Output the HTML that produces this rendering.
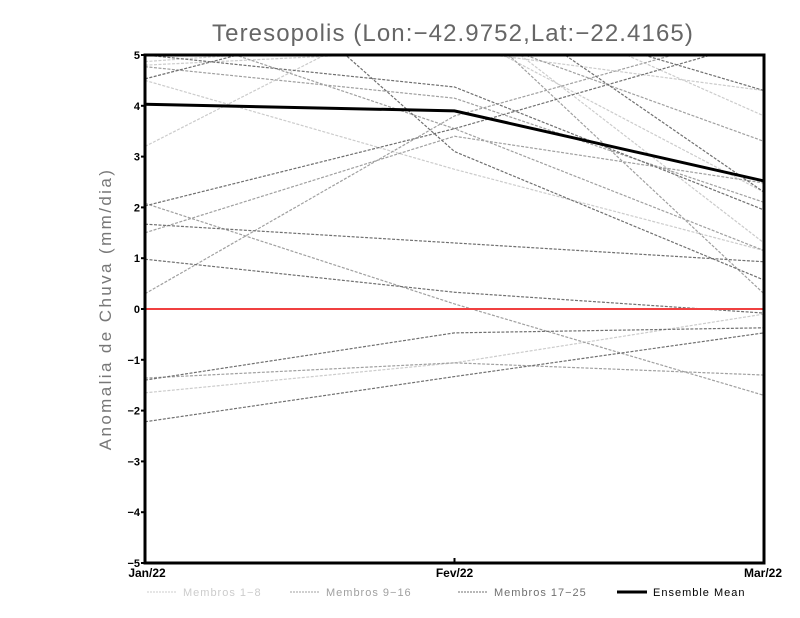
<!DOCTYPE html>
<html><head><meta charset="utf-8"><style>
body{margin:0;background:#fff;width:800px;height:618px;overflow:hidden}
svg{display:block}
</style></head><body>
<svg id="chart" width="800" height="618" font-family="Liberation Sans, sans-serif">
<defs><clipPath id="plotclip"><rect x="145" y="55" width="619" height="508"/></clipPath></defs>
<text x="453" y="41" text-anchor="middle" font-size="24" fill="#666" letter-spacing="1.1">Teresopolis (Lon:−42.9752,Lat:−22.4165)</text>
<text transform="translate(111,309) rotate(-90)" text-anchor="middle" font-size="17" fill="#777" letter-spacing="2.4">Anomalia de Chuva (mm/dia)</text>
<g id="series" clip-path="url(#plotclip)"></g>
<g id="axes"></g>
<g id="legend"></g>
</svg>
<script>
const categories = ["Jan/22","Fev/22","Mar/22"];
const yTicks = [5,4,3,2,1,0,-1,-2,-3,-4,-5];
const membersLight = [[3.2,6.3,6],[4.5,2.75,1.15],[-1.65,-1.06,-0.1],[4.8,5.1,4.3],[6,6.5,3.8],[8,6,1.3],[4.87,5.3,5.5],[7,5.5,2.3]];
const membersMedium = [[0.3,3.8,5.5],[2.08,0.1,-1.7],[1.5,3.4,2.48],[-1.36,-1.06,-1.3],[4.77,4.15,2.1],[9,6,0.3],[6,5.5,3.3],[5.6,3.55,1.15]];
const membersDark = [[4.53,6.1,4.3],[2.03,3.55,5.3],[1.67,1.3,0.93],[0.98,0.33,-0.08],[-1.4,-0.47,-0.37],[-2.22,-1.33,-0.47],[8.5,3.1,0.57],[5,4.37,1.95],[6,6.5,2.3]];
const ensembleMean = [4.03,3.9,2.52];
const legendLabels = ["Membros 1-8","Membros 9-16","Membros 17-25","Ensemble Mean"];

const NS="http://www.w3.org/2000/svg";
const X0=145,X1=764,Y0=55,Y1=563;
const xScale=i=>X0+(X1-X0)*i/(categories.length-1);
const yScale=v=>Y1-(v+5)/10*(Y1-Y0);
function mk(tag,attrs,parent){const e=document.createElementNS(NS,tag);for(const k in attrs)e.setAttribute(k,attrs[k]);parent.appendChild(e);return e;}
const series=document.getElementById('series'),axes=document.getElementById('axes'),legend=document.getElementById('legend');
function pts(arr){return arr.map((v,i)=>xScale(i)+','+yScale(v)).join(' ');}
function drawGroup(arr,color,name){arr.forEach((m,k)=>{const p=mk('polyline',{points:pts(m),fill:'none',stroke:color,'stroke-width':1.2,'stroke-dasharray':'3,1.5'},series);

});}
drawGroup(membersLight,'#cccccc','member-light');
drawGroup(membersMedium,'#a0a0a0','member-medium');
drawGroup(membersDark,'#707070','member-dark');
const zl=mk('line',{x1:X0,x2:X1,y1:yScale(0),y2:yScale(0),stroke:'#f04040','stroke-width':2},series);


const em=mk('polyline',{points:pts(ensembleMean),fill:'none',stroke:'#000','stroke-width':3},series);


const fr=mk('rect',{x:X0,y:Y0,width:X1-X0,height:Y1-Y0,fill:'none',stroke:'#000','stroke-width':3},axes);


yTicks.forEach(t=>{const y=yScale(t);
mk('line',{x1:X0-4,x2:X0,y1:y,y2:y,stroke:'#000','stroke-width':2},axes);
const tx=mk('text',{x:X0-5,y:y+4,'text-anchor':'end','font-size':11,'font-weight':'bold'},axes);tx.textContent=String(t).replace('-','−');

});
categories.forEach((c,i)=>{const x=xScale(i);
mk('line',{x1:x,x2:x,y1:Y1,y2:Y1-5,stroke:'#000','stroke-width':2},axes);
const tx=mk('text',{x:i==0?X0+2:(i==categories.length-1?X1-1:x),y:Y1+14,'text-anchor':'middle','font-size':12,'font-weight':'bold'},axes);
tx.textContent=c;

});
const lc=['#cccccc','#a0a0a0','#707070','#000'];
const lx=[147,290,458,617];
legendLabels.forEach((l,i)=>{const g=mk('g',{},legend);


mk('line',{x1:lx[i],x2:lx[i]+30,y1:592,y2:592,stroke:lc[i],'stroke-width':i==3?3:1,'stroke-dasharray':i==3?'none':'2,1'},g);
const t=mk('text',{x:lx[i]+36,y:596,'font-size':11,'letter-spacing':'1','fill':i==3?'#000':lc[i]},g);t.textContent=l.replace(/-/g,'−');});
</script>
</body></html>
